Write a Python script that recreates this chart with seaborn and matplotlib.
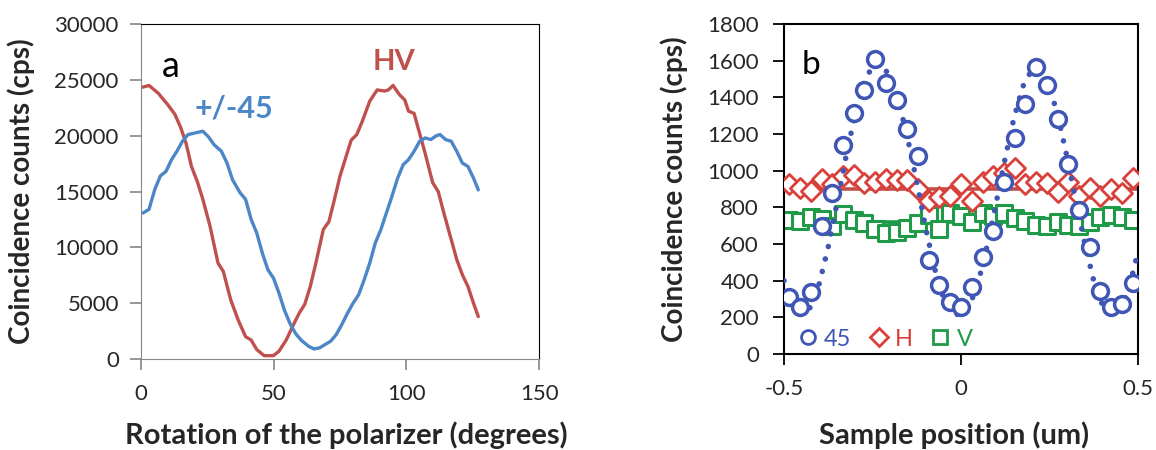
import matplotlib
matplotlib.use("Agg")
import matplotlib.pyplot as plt
import numpy as np
import pandas as pd
import seaborn as sns
from matplotlib.lines import Line2D

# ---- panel a: polarizer rotation scans ----
hv_deg = [0.7, 3, 6.5, 10, 12.8, 15, 17, 19, 21.2, 23.3, 26, 29, 31, 33.8, 36.6,
          39.4, 41.5, 43.6, 46.4, 49.9, 52, 54.7, 57.5, 59.6, 61.7, 63.8, 65.9,
          68.7, 70.8, 72.9, 75, 77.1, 79.2, 81.3, 83.4, 86.2, 89, 91.8, 93.2, 95,
          97.3, 99.4, 100.8, 102.9, 105, 107.1, 109.9, 112, 114.1, 116.9, 119,
          121.1, 123.2, 125.3, 127.1]
hv_counts = [24350, 24500, 23800, 22800, 21900, 20700, 19300, 17250, 15900, 14300,
             11900, 8600, 7850, 5300, 3500, 2000, 1700, 850, 300, 300, 700, 1700,
             3100, 4100, 4900, 6500, 8600, 11600, 12300, 14300, 16400, 18000, 19600,
             20100, 21300, 23100, 24100, 24000, 24100, 24500, 23700, 23200, 22200,
             22000, 20200, 18400, 15800, 15000, 13100, 10700, 8900, 7550, 6500,
             5000, 3800]

d45_deg = [0.7, 3, 5.2, 7.3, 9.4, 11.5, 13.5, 15.6, 17.7, 20.5, 23.3, 25.4, 27.5,
           30.3, 32.4, 34.5, 37.3, 39.4, 41.5, 43.6, 45.7, 47.8, 49.9, 52, 54,
           56.1, 58.2, 60.3, 63.1, 65.2, 67.3, 69.4, 71.5, 73.6, 75.7, 77.8, 79.9,
           82, 84.1, 86.2, 88.3, 90.4, 92.5, 94.6, 96.7, 98.8, 100.8, 102.9, 105,
           107.1, 109.2, 111.3, 112.7, 114.8, 116.9, 119, 121.1, 123.2, 125.3, 127.1]
d45_counts = [13075, 13400, 15200, 16400, 16800, 17850, 18600, 19500, 20100, 20250,
              20400, 19900, 19200, 18600, 17550, 16050, 14900, 14300, 12500, 11300,
              9500, 8000, 7250, 5900, 4400, 3200, 2300, 1700, 1150, 900, 1000, 1300,
              1600, 2200, 3100, 4100, 5000, 5750, 7100, 8600, 10400, 11600, 13100,
              14600, 16200, 17400, 17850, 18600, 19500, 19800, 19650, 20000, 20100,
              19650, 19500, 18600, 17550, 17250, 16200, 15150]

# ---- panel b: sample position scans ----
pos_um = [-0.485, -0.455, -0.424, -0.394, -0.364, -0.333, -0.303, -0.273, -0.242,
          -0.212, -0.182, -0.152, -0.121, -0.091, -0.061, -0.030, 0.0, 0.030,
          0.061, 0.091, 0.121, 0.152, 0.182, 0.212, 0.242, 0.273, 0.303, 0.333,
          0.364, 0.394, 0.424, 0.455, 0.485]
c45 = [312, 257, 337, 698, 880, 1141, 1312, 1440, 1610, 1476, 1385, 1227, 1081,
       512, 379, 283, 257, 365, 529, 671, 939, 1181, 1363, 1564, 1467, 1281, 1035,
       784, 583, 343, 257, 273, 388]
cH = [926, 908, 890, 957, 926, 972, 975, 935, 939, 953, 948, 948, 899, 835, 857,
      862, 930, 835, 939, 972, 990, 1013, 926, 941, 935, 886, 939, 862, 908, 862,
      899, 880, 959]
cV = [730, 725, 745, 735, 700, 765, 730, 715, 680, 660, 665, 690, 715, 760, 680,
      770, 755, 720, 770, 755, 770, 740, 725, 705, 700, 720, 705, 700, 720, 745,
      760, 750, 730]

fit_pos = [-0.5, -0.475, -0.45, -0.425, -0.4, -0.375, -0.35, -0.325, -0.3, -0.275,
           -0.25, -0.225, -0.2, -0.175, -0.15, -0.125, -0.1, -0.075, -0.05, -0.025,
           0.0, 0.025, 0.05, 0.075, 0.1, 0.125, 0.15, 0.175, 0.2, 0.225, 0.25,
           0.275, 0.3, 0.325, 0.35, 0.375, 0.4, 0.425, 0.45, 0.475, 0.5]
fit45 = [400, 256, 210, 256, 386, 585, 825, 1075, 1300, 1475, 1573, 1585, 1510,
         1370, 1170, 940, 690, 470, 310, 225, 210, 265, 400, 600, 830, 1070, 1290,
         1460, 1550, 1555, 1460, 1290, 1070, 830, 600, 400, 265, 215, 240, 360, 560]
fitH = 900
fitV = 720

RED = "#C0504D"
BLUE = "#4A86C8"
BLUE_B = "#3F56B5"
RED_B = "#D9403A"
GREEN = "#1E9A48"
GRAY = "#868686"

sns.set_style("white")
plt.rcParams["font.family"] = ["Lato", "DejaVu Sans"]

fig = plt.figure(figsize=(11.56, 4.5), dpi=100)
ax1 = fig.add_axes([0.1220, 0.2022, 0.3443, 0.7444])
ax2 = fig.add_axes([0.6782, 0.2133, 0.3062, 0.7333])

# panel a
sns.lineplot(x=hv_deg, y=hv_counts, ax=ax1, color=RED, lw=2.4)
sns.lineplot(x=d45_deg, y=d45_counts, ax=ax1, color=BLUE, lw=2.4)
ax1.set_xlim(0, 150)
ax1.set_ylim(0, 30000)
ax1.set_xticks([0, 50, 100, 150])
ax1.set_yticks(range(0, 30001, 5000))
ax1.text(8, 25300, "a", fontsize=26, color="black")
ax1.text(95.5, 26600, "HV", fontsize=21, color=RED, fontweight="bold",
         ha="center", va="center")
ax1.text(35, 22450, "+/-45", fontsize=22, color=BLUE, fontweight="bold",
         ha="center", va="center")
for s in ["left", "bottom"]:
    ax1.spines[s].set_color(GRAY)
for s in ["top", "right"]:
    ax1.spines[s].set_color("black")
ax1.tick_params(axis="both", direction="out", length=8, width=1.2, color=GRAY,
                labelsize=16, left=True, bottom=True)
ax1.tick_params(axis="x", pad=10)
ax1.tick_params(axis="y", pad=8)
ax1.set_xlabel("Rotation of the polarizer (degrees)", fontsize=21, fontweight="bold")
ax1.set_ylabel("Coincidence counts (cps)", fontsize=20, fontweight="bold")
ax1.xaxis.set_label_coords(0.515, -0.185)
ax1.yaxis.set_label_coords(-0.266, 0.5)

# panel b
ax2.axhline(fitH, color=RED, lw=2.6, zorder=1)
ax2.axhline(fitV, color=GREEN, lw=2.6, zorder=1)
sns.scatterplot(x=pos_um, y=cV, ax=ax2, marker="s", s=130, facecolor="white",
                edgecolor=GREEN, linewidth=2.2, zorder=2)
sns.scatterplot(x=pos_um, y=cH, ax=ax2, marker="D", s=105, facecolor="white",
                edgecolor=RED_B, linewidth=2.0, zorder=3)
sns.lineplot(x=fit_pos, y=fit45, ax=ax2, color=BLUE_B, lw=4,
             linestyle=(0, (0.01, 2.3)), dash_capstyle="round", zorder=4)
sns.scatterplot(x=pos_um, y=c45, ax=ax2, marker="o", s=130, facecolor="white",
                edgecolor=BLUE_B, linewidth=2.5, zorder=5)
ax2.set_xlim(-0.5, 0.5)
ax2.set_ylim(0, 1800)
ax2.set_xticks([-0.5, 0, 0.5])
ax2.set_xticklabels(["-0.5", "0", "0.5"])
ax2.set_yticks(range(0, 1801, 200))
ax2.text(-0.449, 1525, "b", fontsize=24, color="black")
for s in ax2.spines.values():
    s.set_color("black")
    s.set_linewidth(1.5)
ax2.tick_params(axis="both", direction="out", length=8, width=1.3, color="black",
                labelsize=16, pad=10, left=True, bottom=True)
ax2.set_xlabel("Sample position (um)", fontsize=21, fontweight="bold")
ax2.set_ylabel("Coincidence counts (cps)", fontsize=20, fontweight="bold")
ax2.xaxis.set_label_coords(0.48, -0.205)
ax2.yaxis.set_label_coords(-0.271, 0.5)

handles = [
    Line2D([], [], marker="o", ls="none", ms=10, mfc="white", mec=BLUE_B, mew=2),
    Line2D([], [], marker="D", ls="none", ms=9, mfc="white", mec=RED_B, mew=2),
    Line2D([], [], marker="s", ls="none", ms=10, mfc="white", mec=GREEN, mew=2),
]
leg = ax2.legend(handles, ["45", "H", "V"], loc="lower left", ncol=3, frameon=False,
                 fontsize=17, handlelength=0.8, handletextpad=0.3,
                 columnspacing=0.75, borderaxespad=0.2,
                 bbox_to_anchor=(0.0, -0.03))
for t, c in zip(leg.get_texts(), [BLUE_B, RED_B, GREEN]):
    t.set_color(c)

fig.savefig("out.png", dpi=100)
